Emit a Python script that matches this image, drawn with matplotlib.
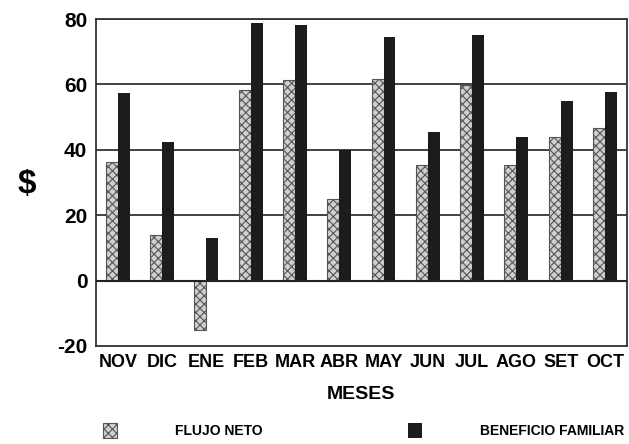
import matplotlib
matplotlib.use('Agg')
import matplotlib.pyplot as plt
import numpy as np

plt.rcParams['font.family'] = ['Liberation Sans', 'DejaVu Sans']
plt.rcParams['hatch.linewidth'] = 0.8

meses = ['NOV', 'DIC', 'ENE', 'FEB', 'MAR', 'ABR', 'MAY', 'JUN', 'JUL', 'AGO', 'SET', 'OCT']
flujo_neto = [36.4, 14, -15, 58.3, 61.4, 24.9, 61.6, 35.4, 59.8, 35.4, 44, 46.6]
beneficio_familiar = [57.3, 42.5, 13, 78.9, 78.2, 40, 74.4, 45.6, 75.1, 44, 54.8, 57.8]
y_ticks = [-20, 0, 20, 40, 60, 80]

fig = plt.figure(figsize=(6.29, 4.44), dpi=100)
ax = fig.add_axes([0.152, 0.221, 0.845, 0.736])

x = np.arange(len(meses))
w = 0.27

for yv in [20, 40, 60, 80]:
    ax.axhline(yv, color='#333333', lw=1.3, zorder=1)

b1 = ax.bar(x - w / 2, flujo_neto, w, facecolor='#cfcfcf', edgecolor='#555555',
            hatch='xxxx', lw=0.8, label='FLUJO NETO', zorder=2)
b2 = ax.bar(x + w / 2, beneficio_familiar, w, color='#1c1c1c',
            label='BENEFICIO FAMILIAR', zorder=2)
ax.axhline(0, color='#222222', lw=1.5, zorder=3)

ax.set_ylim(-20, 80)
ax.set_xlim(-0.5, len(meses) - 0.5)
ax.set_yticks(y_ticks)
ax.set_yticklabels([str(v) for v in y_ticks], fontsize=15, fontweight='bold')
ax.set_xticks(x)
ax.set_xticklabels(meses, fontsize=13, fontweight='bold')
ax.tick_params(length=0, pad=6)
for s in ax.spines.values():
    s.set_color('#333333')
    s.set_linewidth(1.3)

ax.set_xlabel('MESES', fontsize=14, fontweight='bold', labelpad=11)
fig.text(0.043, 0.585, '$', fontsize=24, fontweight='bold', ha='center', va='center')

# two legend entries placed separately, as in the original
leg_kw = dict(frameon=False, handlelength=1.0, handleheight=1.2, handletextpad=4.2,
              prop={'weight': 'bold', 'size': 10}, borderaxespad=0)
fig.legend(handles=[b1], loc='center left', bbox_to_anchor=(0.155, 0.03), **leg_kw)
fig.legend(handles=[b2], loc='center left', bbox_to_anchor=(0.64, 0.03), **leg_kw)

fig.savefig('out.png', dpi=100)
